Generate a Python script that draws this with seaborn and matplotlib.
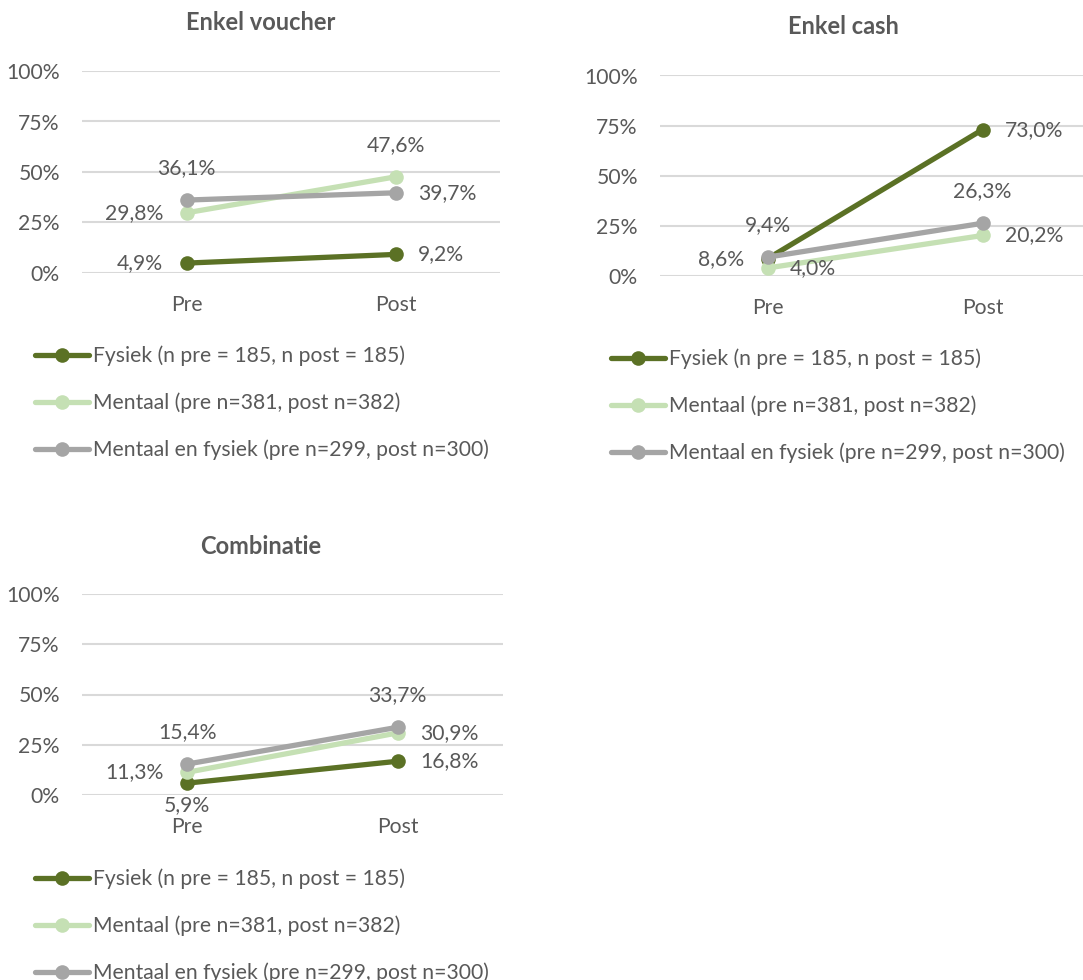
import matplotlib
matplotlib.use("Agg")
import matplotlib.pyplot as plt
from matplotlib.lines import Line2D
import seaborn as sns
import pandas as pd

# Data (share of respondents, %)
moments = ["Pre", "Post"]
groups = [
    "Fysiek (n pre = 185, n post = 185)",
    "Mentaal (pre n=381, post n=382)",
    "Mentaal en fysiek (pre n=299, post n=300)",
]
panel_titles = ["Enkel voucher", "Enkel cash", "Combinatie"]

voucher_fysiek = [4.9, 9.2]
voucher_mentaal = [29.8, 47.6]
voucher_beide = [36.1, 39.7]

cash_fysiek = [8.6, 73.0]
cash_mentaal = [4.0, 20.2]
cash_beide = [9.4, 26.3]

combi_fysiek = [5.9, 16.8]
combi_mentaal = [11.3, 30.9]
combi_beide = [15.4, 33.7]

yticks = [0, 25, 50, 75, 100]
ytick_labels = ["0%", "25%", "50%", "75%", "100%"]

colors = ["#5b7125", "#c5e0b4", "#a5a5a5"]
text_color = "#595959"
grid_color = "#d9d9d9"

# label placement per panel, per group, per moment
placements = [
    [["left", "right"], ["left", "above"], ["above", "right"]],
    [["left", "right"], ["right", "right"], ["above", "above"]],
    [["below", "right"], ["left", "right"], ["above", "above"]],
]

panel_values = [
    [voucher_fysiek, voucher_mentaal, voucher_beide],
    [cash_fysiek, cash_mentaal, cash_beide],
    [combi_fysiek, combi_mentaal, combi_beide],
]

sns.set_theme(style="white")
plt.rcParams["font.family"] = ["Lato", "DejaVu Sans"]

FS = 15.2
W, H = 1083, 980
fig = plt.figure(figsize=(W / 100, H / 100), dpi=100)


def px_axes(x0, x1, y_top, y_bot):
    return fig.add_axes([x0 / W, 1 - y_bot / H, (x1 - x0) / W, (y_bot - y_top) / H])


# axes boxes: (left px, right px, top gridline px, zero line px), xlim
layouts = [
    ((82, 500, 71, 273), (-0.5, 1.5)),
    ((660, 1090, 75.5, 276), (-0.5, 1.5)),
    ((82, 503, 594, 795), (-0.5, 1.5)),
]
title_pos = [(261, 23), (843, 27), (261, 546)]
legend_pos = [(35, 357), (611, 360), (35, 880)]

offsets = {
    "left": ((-17, 0), "right", "center"),
    "right": ((16, 0), "left", "center"),
    "above": ((0, 23), "center", "center"),
    "below": ((0, -16), "center", "center"),
}

for p in range(3):
    (x0, x1, yt, yb), xlim = layouts[p]
    ax = px_axes(x0, x1, yt, yb)
    rows = []
    for g, vals in zip(groups, panel_values[p]):
        for m, v in zip(moments, vals):
            rows.append({"moment": m, "groep": g, "waarde": v / 100})
    df = pd.DataFrame(rows)
    sns.lineplot(
        data=df, x="moment", y="waarde", hue="groep", hue_order=groups,
        palette=colors, marker="o", markersize=10.5, markeredgewidth=0,
        linewidth=3.8, sort=False, legend=False, ax=ax, clip_on=False,
    )
    ax.set_xlim(*xlim)
    ax.set_ylim(0, 1)
    ax.set_yticks([t / 100 for t in yticks])
    ax.set_yticklabels(ytick_labels)
    ax.set_xticks([0, 1])
    ax.set_xticklabels(moments)
    ax.set_xlabel("")
    ax.set_ylabel("")
    for s in ax.spines.values():
        s.set_visible(False)
    ax.grid(axis="y", color=grid_color, linewidth=1.5)
    ax.grid(axis="x", visible=False)
    ax.set_axisbelow(True)
    ax.tick_params(axis="y", length=0, pad=16, labelsize=FS, labelcolor=text_color)
    ax.tick_params(axis="x", length=0, pad=15.5, labelsize=FS, labelcolor=text_color)

    # value labels
    for gi, vals in enumerate(panel_values[p]):
        for mi, v in enumerate(vals):
            (dx, dy), ha, va = offsets[placements[p][gi][mi]]
            ax.annotate(
                f"{v:.1f}%".replace(".", ","), (mi, v / 100),
                xytext=(dx, dy), textcoords="offset points",
                ha=ha, va=va, fontsize=FS, color=text_color,
                annotation_clip=False,
            )

    tx, ty = title_pos[p]
    fig.text(tx / W, 1 - ty / H, panel_titles[p], ha="center", va="center",
             fontsize=17, fontweight="bold", color=text_color)

    handles = [
        Line2D([], [], color=c, linewidth=3.8, marker="o", markersize=10.5,
               markeredgewidth=0)
        for c in colors
    ]
    lx, ly = legend_pos[p]
    leg = fig.legend(
        handles, groups, loc="center left",
        bbox_to_anchor=(lx / W, 1 - (ly + 46) / H),
        bbox_transform=fig.transFigure, frameon=False, fontsize=FS,
        handlelength=2.55, handletextpad=0.22, labelspacing=1.26,
        borderpad=0, borderaxespad=0,
    )
    for t in leg.get_texts():
        t.set_color(text_color)

fig.savefig("out.png", dpi=100)
